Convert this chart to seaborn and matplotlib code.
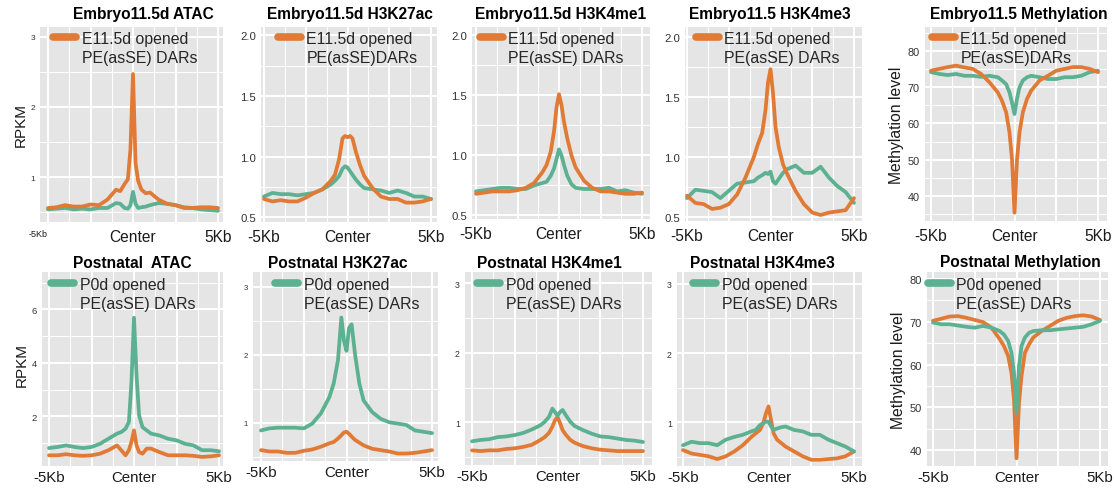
import matplotlib
matplotlib.use("Agg")
import matplotlib.pyplot as plt
import numpy as np
import pandas as pd
import seaborn as sns
from matplotlib.lines import Line2D

# ---------------- data ----------------
pos_kb = [-5, -4.5, -4, -3.5, -3, -2.5, -2, -1.5, -1, -0.75, -0.5, -0.3, -0.15, 0,
          0.15, 0.3, 0.5, 0.75, 1, 1.5, 2, 2.5, 3, 3.5, 4, 4.5, 5]

# Embryo E11.5 panels: orange = E11.5d opened DARs, green = P0d opened DARs
e_atac_orange = [0.56, 0.57, 0.60, 0.58, 0.58, 0.61, 0.60, 0.68, 0.82, 0.80, 0.90, 0.97, 1.40, 2.47,
                 1.20, 0.95, 0.82, 0.77, 0.78, 0.68, 0.62, 0.60, 0.56, 0.56, 0.57, 0.57, 0.56]
e_atac_green = [0.54, 0.55, 0.56, 0.54, 0.55, 0.54, 0.56, 0.56, 0.63, 0.62, 0.56, 0.55, 0.60, 0.79,
                0.62, 0.56, 0.57, 0.58, 0.60, 0.63, 0.62, 0.60, 0.57, 0.56, 0.54, 0.53, 0.52]
e_k27ac_orange = [0.65, 0.63, 0.64, 0.63, 0.63, 0.66, 0.70, 0.73, 0.80, 0.85, 0.98, 1.15, 1.17, 1.16,
                  1.17, 1.15, 1.04, 0.93, 0.84, 0.74, 0.67, 0.65, 0.65, 0.62, 0.62, 0.63, 0.65]
e_k27ac_green = [0.67, 0.70, 0.69, 0.69, 0.68, 0.69, 0.70, 0.73, 0.77, 0.80, 0.84, 0.90, 0.92, 0.91,
                 0.88, 0.85, 0.81, 0.77, 0.74, 0.73, 0.72, 0.70, 0.72, 0.70, 0.67, 0.67, 0.65]
e_k4me1_orange = [0.68, 0.69, 0.70, 0.70, 0.70, 0.71, 0.73, 0.77, 0.86, 0.92, 1.03, 1.20, 1.40, 1.51,
                  1.42, 1.28, 1.14, 1.00, 0.90, 0.79, 0.73, 0.70, 0.70, 0.69, 0.68, 0.68, 0.69]
e_k4me1_green = [0.70, 0.71, 0.72, 0.73, 0.73, 0.72, 0.72, 0.75, 0.77, 0.78, 0.83, 0.89, 0.97, 1.05,
                 1.00, 0.92, 0.83, 0.76, 0.73, 0.72, 0.72, 0.72, 0.73, 0.70, 0.71, 0.69, 0.68]
e_k4me3_orange = [0.68, 0.62, 0.61, 0.57, 0.58, 0.61, 0.69, 0.83, 1.00, 1.11, 1.20, 1.39, 1.62, 1.73,
                  1.53, 1.25, 1.08, 0.94, 0.86, 0.72, 0.61, 0.54, 0.52, 0.54, 0.55, 0.56, 0.66]
e_k4me3_green = [0.66, 0.73, 0.72, 0.71, 0.66, 0.72, 0.78, 0.79, 0.80, 0.83, 0.85, 0.87, 0.86, 0.88,
                 0.80, 0.78, 0.82, 0.87, 0.90, 0.93, 0.87, 0.87, 0.92, 0.83, 0.76, 0.71, 0.62]
e_meth_orange = [74.6, 75.1, 75.6, 76.0, 75.5, 75.1, 73.7, 71.4, 68.6, 66.3, 63.1, 57.5, 50.1, 35.3,
                 50.0, 57.5, 63.1, 66.8, 69.1, 71.9, 73.2, 74.6, 75.1, 75.6, 75.6, 75.1, 74.2]
e_meth_green = [74.2, 73.7, 73.4, 73.7, 73.2, 73.2, 72.9, 73.2, 72.8, 71.9, 70.9, 68.6, 65.8, 62.6,
                66.8, 70.0, 71.9, 72.8, 73.2, 72.8, 72.3, 72.3, 72.8, 72.8, 73.2, 74.2, 74.6]

# Postnatal panels
p_atac_green = [0.82, 0.86, 0.92, 0.86, 0.82, 0.86, 0.98, 1.17, 1.36, 1.42, 1.54, 1.79, 3.28, 5.69,
                3.52, 2.04, 1.60, 1.48, 1.36, 1.29, 1.17, 1.11, 0.98, 0.92, 0.74, 0.74, 0.70]
p_atac_orange = [0.55, 0.55, 0.59, 0.55, 0.53, 0.55, 0.61, 0.74, 0.92, 0.74, 0.55, 0.74, 1.05, 1.48,
                 0.92, 0.67, 0.61, 0.80, 0.80, 0.67, 0.55, 0.55, 0.55, 0.53, 0.49, 0.51, 0.55]
p_k27ac_green = [0.89, 0.92, 0.93, 0.93, 0.93, 0.92, 0.99, 1.14, 1.38, 1.58, 1.92, 2.55, 2.21, 2.06,
                 2.40, 2.45, 2.01, 1.58, 1.33, 1.16, 1.06, 1.01, 0.99, 0.97, 0.89, 0.87, 0.85]
p_k27ac_orange = [0.60, 0.58, 0.58, 0.56, 0.56, 0.59, 0.61, 0.65, 0.70, 0.72, 0.77, 0.82, 0.86, 0.87,
                  0.84, 0.80, 0.75, 0.71, 0.67, 0.62, 0.60, 0.58, 0.55, 0.55, 0.56, 0.58, 0.60]
p_k4me1_green = [0.73, 0.75, 0.76, 0.79, 0.80, 0.82, 0.85, 0.90, 0.96, 1.01, 1.08, 1.20, 1.15, 1.10,
                 1.15, 1.18, 1.10, 1.01, 0.95, 0.89, 0.84, 0.80, 0.79, 0.77, 0.75, 0.74, 0.72]
p_k4me1_orange = [0.60, 0.59, 0.60, 0.60, 0.62, 0.63, 0.65, 0.68, 0.75, 0.79, 0.85, 0.94, 1.03, 1.08,
                  0.99, 0.89, 0.82, 0.75, 0.71, 0.66, 0.63, 0.61, 0.60, 0.59, 0.59, 0.59, 0.59]
p_k4me3_green = [0.67, 0.72, 0.70, 0.70, 0.67, 0.75, 0.79, 0.82, 0.87, 0.89, 0.96, 0.99, 1.01, 1.01,
                 0.94, 0.89, 0.91, 0.93, 0.94, 0.89, 0.87, 0.82, 0.82, 0.75, 0.70, 0.65, 0.58]
p_k4me3_orange = [0.60, 0.55, 0.53, 0.51, 0.47, 0.51, 0.58, 0.67, 0.79, 0.84, 0.89, 0.99, 1.13, 1.23,
                  1.03, 0.84, 0.75, 0.70, 0.65, 0.58, 0.51, 0.46, 0.46, 0.47, 0.48, 0.51, 0.58]
p_meth_orange = [70.2, 70.7, 71.2, 71.3, 70.9, 70.4, 69.9, 68.6, 65.9, 64.3, 62.0, 58.0, 51.8, 38.1,
                 51.0, 57.3, 62.7, 64.7, 66.3, 67.8, 69.0, 70.2, 70.9, 71.3, 71.5, 71.2, 70.4]
p_meth_green = [69.8, 69.4, 69.4, 69.1, 68.8, 68.6, 69.0, 68.6, 67.8, 67.0, 65.5, 62.7, 58.0, 48.7,
                59.6, 64.3, 66.3, 67.4, 67.8, 68.0, 68.0, 68.2, 68.4, 68.6, 68.8, 69.4, 70.2]

titles = ["Embryo11.5d ATAC", "Embryo11.5d H3K27ac", "Embryo11.5d H3K4me1", "Embryo11.5 H3K4me3",
          "Embryo11.5 Methylation", "Postnatal  ATAC", "Postnatal H3K27ac", "Postnatal H3K4me1",
          "Postnatal H3K4me3", "Postnatal Methylation"]
legend_top = [("E11.5d opened", "PE(asSE) DARs"), ("E11.5d opened", "PE(asSE)DARs"),
              ("E11.5d opened", "PE(asSE) DARs"), ("E11.5d opened", "PE(asSE) DARs"),
              ("E11.5d opened", "PE(asSE)DARs")]
legend_bottom = ("P0d opened", "PE(asSE) DARs")
x_tick_labels = ["-5Kb", "", "Center", "", "5Kb"]

# ---------------- styling / layout ----------------
sns.set_theme(style="darkgrid")
plt.rcParams["font.family"] = ["Liberation Sans", "DejaVu Sans"]

ORANGE = "#E17A35"
GREEN = "#5BB192"
W, H = 1114, 489
fig = plt.figure(figsize=(W / 100, H / 100), dpi=100)
fig.patch.set_facecolor("white")

series = [
    (e_atac_orange, e_atac_green), (e_k27ac_orange, e_k27ac_green), (e_k4me1_orange, e_k4me1_green),
    (e_k4me3_orange, e_k4me3_green), (e_meth_orange, e_meth_green),
    (p_atac_orange, p_atac_green), (p_k27ac_orange, p_k27ac_green), (p_k4me1_orange, p_k4me1_green),
    (p_k4me3_orange, p_k4me3_green), (p_meth_orange, p_meth_green),
]

# pixel layout: (left, right, top, bottom), x tick pixel of -5 and 5
layout = [
    dict(box=(40, 223, 28, 223), xt=(48, 218), ylim=(0.36, 3.14), yt=[1, 2, 3], ylab=["1", "2", "3"], ymin=[0.5, 1.5, 2.5], yfs=6,
         title=(143, 15), leg=(53, 32), ylabel=("RPKM", 21, 125)),
    dict(box=(261, 437, 28, 223), xt=(264, 431), ylim=(0.46, 2.07), yt=[0.5, 1.0, 1.5, 2.0], ylab=["0.5", "1.0", "1.5", "2.0"],
         ymin=[0.75, 1.25, 1.75], yfs=8.2, title=(350, 15), leg=(278, 32), ylabel=None),
    dict(box=(472, 650, 28, 220), xt=(476, 642), ylim=(0.47, 2.07), yt=[0.5, 1.0, 1.5, 2.0], ylab=["0.5", "1.0", "1.5", "2.0"],
         ymin=[0.75, 1.25, 1.75], yfs=8.2, title=(561, 15), leg=(480, 32), ylabel=None),
    dict(box=(685, 862, 28, 222), xt=(687, 854), ylim=(0.47, 2.08), yt=[0.5, 1.0, 1.5, 2.0], ylab=["0.5", "1.0", "1.5", "2.0"],
         ymin=[0.75, 1.25, 1.75], yfs=8.2, title=(770, 15), leg=(696, 32), ylabel=None),
    dict(box=(925, 1107, 28, 222), xt=(931, 1098), ylim=(33, 86.7), yt=[40, 50, 60, 70, 80], ylab=["40", "50", "60", "70", "80"],
         ymin=[35, 45, 55, 65, 75, 85], yfs=7.8, title=(1019, 15), leg=(932, 32), ylabel=("Methylation level", 897, 125)),
    dict(box=(42, 223, 273, 467), xt=(49, 219), ylim=(0.15, 7.4), yt=[2, 4, 6], ylab=["2", "4", "6"], ymin=[1, 3, 5, 7], yfs=6.8,
         title=(132, 263), leg=(51, 278), ylabel=("RPKM", 22, 365)),
    dict(box=(253, 438, 273, 462), xt=(261, 432), ylim=(0.44, 3.22), yt=[1, 2, 3], ylab=["1", "2", "3"], ymin=[0.5, 1.5, 2.5], yfs=5.5,
         title=(338, 263), leg=(275, 278), ylabel=None),
    dict(box=(465, 652, 273, 466), xt=(472, 643), ylim=(0.39, 3.16), yt=[1, 2, 3], ylab=["1", "2", "3"], ymin=[0.5, 1.5, 2.5], yfs=6.3,
         title=(549, 263), leg=(477, 278), ylabel=None),
    dict(box=(677, 862, 273, 467), xt=(683, 854), ylim=(0.37, 3.17), yt=[1, 2, 3], ylab=["1", "2", "3"], ymin=[0.5, 1.5, 2.5], yfs=6.3,
         title=(762, 263), leg=(693, 278), ylabel=None),
    dict(box=(927, 1108, 273, 467), xt=(933, 1100), ylim=(36.3, 81.6), yt=[40, 50, 60, 70, 80], ylab=["40", "50", "60", "70", "80"],
         ymin=[45, 55, 65, 75], yfs=8, title=(1020, 263), leg=(928, 278), ylabel=("Methylation level", 898, 370)),
]

for i, (lay, (orange_vals, green_vals)) in enumerate(zip(layout, series)):
    l, r, t, b = lay["box"]
    ax = fig.add_axes([l / W, 1 - b / H, (r - l) / W, (b - t) / H])
    ax.set_facecolor("#E5E5E5")
    for s in ax.spines.values():
        s.set_visible(False)

    df = pd.DataFrame({
        "pos": pos_kb * 2,
        "signal": list(orange_vals) + list(green_vals),
        "group": ["orange"] * len(pos_kb) + ["green"] * len(pos_kb),
    })
    top_row = i < 5
    order = ["green", "orange"] if top_row else ["orange", "green"]
    for g in order:
        sns.lineplot(data=df[df["group"] == g], x="pos", y="signal", color=ORANGE if g == "orange" else GREEN,
                     linewidth=2.7, ax=ax, legend=False, zorder=3 if g == order[1] else 2)

    # x axis
    x0, x1 = lay["xt"]
    ppk = (x1 - x0) / 10.0
    ax.set_xlim(-5 - (x0 - l) / ppk, 5 + (r - x1) / ppk)
    ax.set_xticks([-5, -2.5, 0, 2.5, 5])
    ax.set_xticklabels(x_tick_labels, fontsize=11.2 if top_row else 10.8, color="#1a1a1a")
    ax.set_xticks([-3.75, -1.25, 1.25, 3.75], minor=True)
    if i == 0:
        lab = ax.get_xticklabels()[0]
        lab.set_fontsize(6.5)
        lab.set_ha("right")
    # y axis
    ax.set_ylim(*lay["ylim"])
    ax.set_yticks(lay["yt"])
    ax.set_yticklabels(lay["ylab"], fontsize=lay["yfs"], color="#333333")
    ax.set_yticks(lay["ymin"], minor=True)
    ax.tick_params(axis="both", which="major", length=2.2, width=1.6, color="#333333")
    ax.tick_params(axis="x", which="major", pad=3 if top_row else 0.5)
    ax.tick_params(axis="y", which="major", pad=1.5)
    ax.tick_params(which="minor", length=0)
    ax.grid(which="major", color="white", linewidth=1.4)
    ax.grid(which="minor", color="white", linewidth=0.7)
    ax.set_axisbelow(True)
    ax.set_xlabel("")
    ax.set_ylabel("")

    # legend (one coloured entry, two text lines)
    line1, line2 = legend_top[i] if top_row else legend_bottom
    col = ORANGE if top_row else GREEN
    handles = [Line2D([0], [0], color=col, lw=5.5), Line2D([0], [0], color="none", lw=0)]
    hx, ty = lay["leg"]
    ax.legend(handles=handles, labels=[line1, line2], loc="upper left",
              bbox_to_anchor=(hx / W, 1 - ty / H), bbox_transform=fig.transFigure,
              frameon=False, borderpad=0, borderaxespad=0, handlelength=1.45,
              handletextpad=0.35, labelspacing=0.28, fontsize=11.4)

    # title
    cx, cy = lay["title"]
    fig.text(cx / W, 1 - cy / H, titles[i], ha="center", va="center", fontsize=11.2, fontweight="bold", color="black")
    if lay["ylabel"]:
        txt, yx, yy = lay["ylabel"]
        fig.text(yx / W, 1 - yy / H, txt, ha="center", va="center", rotation=90,
                 fontsize=11.3 if "Meth" in txt else 11, color="#1a1a1a")

fig.savefig("out.png", dpi=100, facecolor="white")
